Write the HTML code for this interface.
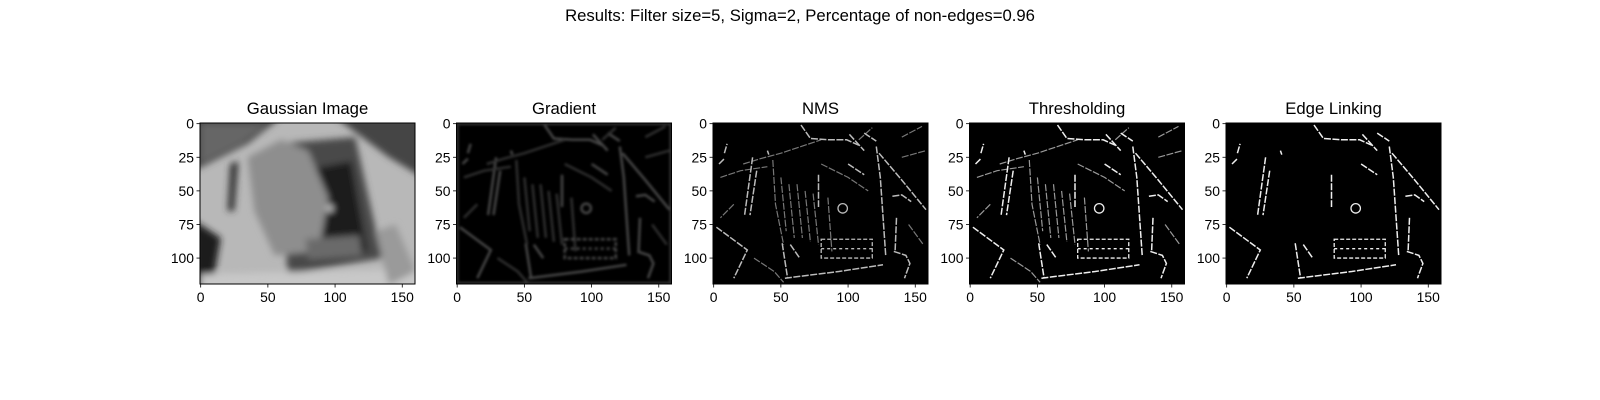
<!DOCTYPE html>
<html><head><meta charset="utf-8">
<style>
html,body{margin:0;padding:0;background:#fff;}
svg{display:block;font-family:"Liberation Sans","DejaVu Sans",sans-serif;}
</style></head>
<body>
<svg id="fig" width="1600" height="400" viewBox="0 0 1600 400" xmlns="http://www.w3.org/2000/svg">
<defs>
<filter id="blur3" x="-10%" y="-10%" width="120%" height="120%"><feGaussianBlur stdDeviation="3.5"/></filter>
<filter id="blur1"><feGaussianBlur stdDeviation="1.2"/></filter>
</defs>
<text x="800" y="21" text-anchor="middle" font-size="16.7" fill="#000">Results: Filter size=5, Sigma=2, Percentage of non-edges=0.96</text>
</svg>
<script>
const panelTitles = ["Gaussian Image","Gradient","NMS","Thresholding","Edge Linking"];
const xTicks = [0,50,100,150];
const yTicks = [0,25,50,75,100];
const imgW = 160, imgH = 120;
// strong edges (image coords)
const strongEdges = [
 [[65,1],[72,11],[86,12],[99,12],[108,16]],
 [[121,17],[124,40],[128,98]],
 [[53,115],[93,110],[126,105]],
 [[2,77],[25,94],[15,115]],
 [[123,22],[140,42],[158,64]],
 [[29,25],[23,68]],
 [[32,35],[27,68]],
 [[78,38],[78,62]],
 [[51,89],[55,115]],
 [[57,90],[64,100]],
 [[100,30],[112,38]],
 [[136,70],[135,95]],
 [[134,95],[143,98],[146,104],[142,115]],
 [[133,54],[140,53],[147,58]],
 [[101,8],[112,20]],
 [[112,7],[121,13]],
 [[8,22],[10,15]],
 [[4,30],[8,26]],
 [[40,20],[41,23]]
];
const boxEdges = [[80,86,118,100]];
const circle = [96,63,3.5];
// weak edges (only NMS/threshold/gradient)
const weakEdges = [
 [[5,40],[20,35],[40,32]],
 [[22,30],[35,26],[50,22],[80,12]],
 [[44,27],[46,60],[52,90]],
 [[56,45],[60,85]],[[62,45],[66,85]],[[68,50],[72,88]],[[74,52],[78,90]],[[85,55],[88,95]],
 [[50,40],[54,80]],
 [[80,30],[100,40],[115,50]],
 [[140,10],[155,2]],
 [[140,25],[158,20]],
 [[145,75],[156,90]],
 [[108,12],[118,3]],
 [[30,100],[45,110],[52,118]],
 [[15,60],[5,70]]
];
const titlesLeft = [200,456.5,713,969.5,1226];
const axTop = 123, sc = 1.344, axW = 215, axH = 161;
const NS = "http://www.w3.org/2000/svg";
const fig = document.getElementById('fig');
function mk(tag, attrs, parent){const e=document.createElementNS(NS,tag);for(const k in attrs)e.setAttribute(k,attrs[k]);(parent||fig).appendChild(e);return e;}
function X(i,x){return titlesLeft[i]+(x+0.5)*sc;}
function Y(y){return axTop+(y+0.5)*sc;}
function pts(i,line){return line.map(p=>X(i,p[0]).toFixed(1)+","+Y(p[1]).toFixed(1)).join(" ");}
function drawEdges(i,g,list,color,w){
 list.forEach(l=>{const e=mk('polyline',{points:pts(i,l),fill:'none',stroke:color,'stroke-width':w,'stroke-dasharray':i>=2?'7 1.5':'none'},g);
 
 });
}
function drawBoxCircle(i,g,color,w){
 boxEdges.forEach(b=>{
  const r=mk('rect',{x:X(i,b[0]),y:Y(b[1]),width:(b[2]-b[0])*sc,height:(b[3]-b[1])*sc,fill:'none',stroke:color,'stroke-width':w,'stroke-dasharray':'4 2'},g);
  
  
  const m=mk('line',{x1:X(i,b[0]),y1:Y((b[1]+b[3])/2),x2:X(i,b[2]),y2:Y((b[1]+b[3])/2),stroke:color,'stroke-width':w,'stroke-dasharray':'3 3'},g);
  
  
 });
 const c=mk('circle',{cx:X(i,circle[0]),cy:Y(circle[1]),r:circle[2]*sc,fill:'none',stroke:color,'stroke-width':w},g);
 
 
}
for(let i=0;i<5;i++){
 const L=titlesLeft[i];
 const g=mk('g',{});
 
 
 const cid='clip'+i;
 const cp=mk('clipPath',{id:cid});mk('rect',{x:L,y:axTop,width:axW,height:axH},cp);
 const img=mk('g',{'clip-path':'url(#'+cid+')'},g);
 
 
 if(i===0){
  mk('rect',{x:L,y:axTop,width:axW,height:axH,fill:'#b8b8b8'},img);
  const b=mk('g',{filter:'url(#blur3)'},img);
  mk('polygon',{points:pts(0,[[-5,-5],[165,-5],[165,40],[140,25],[100,-5],[60,-5],[35,15],[-5,35]]),fill:'#444'},b);
  mk('polygon',{points:pts(0,[[0,0],[50,0],[30,15],[0,30]]),fill:'#666'},b);
  mk('polygon',{points:pts(0,[[-5,72],[15,85],[8,125],[-5,125]]),fill:'#1e1e1e'},b);
  mk('polygon',{points:pts(0,[[55,15],[115,10],[135,100],[65,112]]),fill:'#4a4a4a'},b);
  mk('polygon',{points:pts(0,[[75,35],[112,28],[124,95],[80,100]]),fill:'#1e1e1e'},b);
  mk('polygon',{points:pts(0,[[35,25],[60,12],[80,20],[95,55],[88,95],[55,98],[40,65]]),fill:'#8e8e8e'},b);
  mk('polygon',{points:pts(0,[[78,86],[118,83],[120,98],[80,101]]),fill:'#6a6a6a'},b);
  mk('circle',{cx:X(0,96),cy:Y(63),r:3.5,fill:'#ccc'},b);
  mk('polygon',{points:pts(0,[[0,112],[165,108],[165,125],[0,125]]),fill:'#c8c8c8'},b);
  mk('polygon',{points:pts(0,[[130,80],[145,75],[160,110],[140,120]]),fill:'#9a9a9a'},b);
  mk('polygon',{points:pts(0,[[22,30],[28,28],[25,65],[20,65]]),fill:'#333'},b);
 } else {
  mk('rect',{x:L,y:axTop,width:axW,height:axH,fill:'#000'},img);
  if(i===1){
   const b=mk('g',{filter:'url(#blur1)',opacity:0.7},img);
   drawEdges(i,b,strongEdges,'#666',2.5);
   drawEdges(i,b,weakEdges,'#444',2.5);
   drawBoxCircle(i,b,'#666',2.5);
   mk('rect',{x:L+1,y:axTop+1,width:axW-2,height:axH-2,fill:'none',stroke:'#555','stroke-width':2},b);
  } else {
   const sc2 = i===2?'#bbb':'#eee';
   const wc = i===2?'#777':(i===3?'#999':null);
   if(wc) drawEdges(i,img,weakEdges,wc,1.2);
   drawEdges(i,img,strongEdges,sc2,1.5);
   drawBoxCircle(i,img,sc2,1.3);
  }
 }
 mk('rect',{x:L,y:axTop,width:axW,height:axH,fill:'none',stroke:'#000','stroke-width':1},g);
 const t=mk('text',{x:L+axW/2,y:114,'text-anchor':'middle','font-size':'16.7',fill:'#000'},g);
 t.textContent=panelTitles[i];
 
 
 xTicks.forEach(v=>{
  const x=X(i,v);
  mk('line',{x1:x,y1:axTop+axH,x2:x,y2:axTop+axH+3.5,stroke:'#000','stroke-width':0.8},g);
  const tl=mk('text',{x:x,y:axTop+axH+18,'text-anchor':'middle','font-size':'13.9',fill:'#000'},g);
  tl.textContent=v;
  
  
 });
 yTicks.forEach(v=>{
  const y=Y(v);
  mk('line',{x1:L,y1:y,x2:L-3.5,y2:y,stroke:'#000','stroke-width':0.8},g);
  const tl=mk('text',{x:L-6,y:y+5,'text-anchor':'end','font-size':'13.9',fill:'#000'},g);
  tl.textContent=v;
  
  
 });
}
</script>
</body></html>
